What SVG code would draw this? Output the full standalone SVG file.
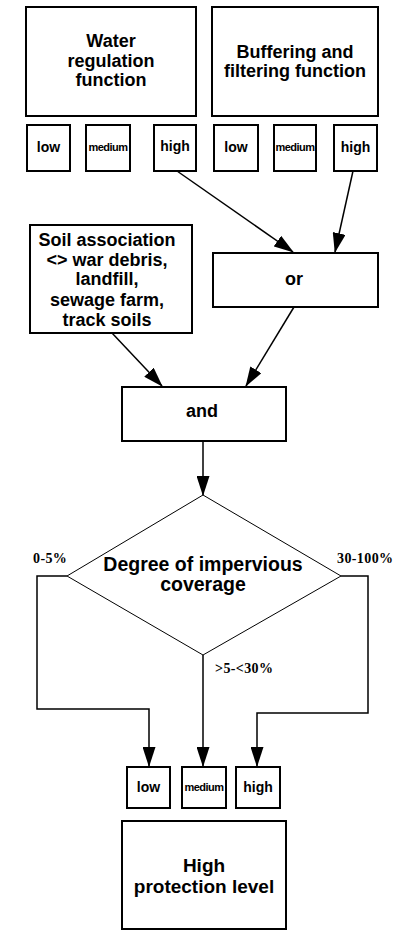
<svg xmlns="http://www.w3.org/2000/svg" width="403" height="938" viewBox="0 0 403 938">
<style>
.box{fill:#fff;stroke:#000;stroke-width:2}
.t{font-family:"Liberation Sans",Arial,sans-serif;font-weight:bold;fill:#000;text-anchor:middle}
.big{font-size:18px}
.dia{font-size:19.5px}
.res{font-size:19px}
.sm{font-size:14px}
.med{font-size:11px;letter-spacing:-0.5px}
.lbl{font-family:"Liberation Serif","Times New Roman",serif;font-weight:bold;font-size:14px;letter-spacing:0.4px;fill:#000}
.c{fill:none;stroke:#000;stroke-width:1.5}
</style>
<defs>
<marker id="ah" markerUnits="userSpaceOnUse" markerWidth="20" markerHeight="13" viewBox="0 0 20 13" refX="19" refY="6.5" orient="auto">
<path d="M0,0 L20,6.5 L0,13 Z" fill="#000"/>
</marker>
</defs>
<rect width="403" height="938" fill="#fff"/>
<g id="water"><rect class="box" x="26" y="7" width="170" height="109"/>
<text class="t big" x="111" y="47">Water</text><text class="t big" x="111" y="67">regulation</text><text class="t big" x="111" y="86">function</text></g>
<g id="buffer"><rect class="box" x="212" y="7" width="166" height="109"/>
<text class="t big" x="295" y="58">Buffering and</text><text class="t big" x="295" y="77">filtering function</text></g>
<g id="w-low"><rect class="box" x="27" y="125" width="43" height="46"/><text class="t sm" x="48.5" y="152">low</text></g>
<g id="w-medium"><rect class="box" x="86" y="125" width="44" height="46"/><text class="t med" x="108" y="151">medium</text></g>
<g id="w-high"><rect class="box" x="154" y="125" width="42" height="46"/><text class="t sm" x="175" y="151">high</text></g>
<g id="b-low"><rect class="box" x="214" y="125" width="44" height="46"/><text class="t sm" x="236" y="152">low</text></g>
<g id="b-medium"><rect class="box" x="274" y="125" width="42" height="46"/><text class="t med" x="295" y="151">medium</text></g>
<g id="b-high"><rect class="box" x="334" y="125" width="43" height="46"/><text class="t sm" x="355.5" y="152">high</text></g>
<g id="soil"><rect class="box" x="30" y="225" width="162" height="108"/>
<text class="t big" x="107" y="246">Soil association</text>
<text class="t big" x="107" y="266">&lt;&gt; war debris,</text>
<text class="t big" x="107" y="285">landfill,</text>
<text class="t big" x="107" y="306">sewage farm,</text>
<text class="t big" x="107" y="326">track soils</text></g>
<g id="or"><rect class="box" x="213" y="253" width="165" height="54"/><text class="t big" x="294" y="285">or</text></g>
<g id="and"><rect class="box" x="122" y="387" width="164" height="54"/><text class="t big" x="202" y="417">and</text></g>
<g id="decision"><polygon points="203,495 341,576 203,655 67,576" fill="#fff" stroke="#000" stroke-width="1"/>
<text class="t dia" x="203" y="571">Degree of impervious</text><text class="t dia" x="203" y="591">coverage</text></g>
<g id="o-low"><rect class="box" x="127" y="767" width="43" height="41"/><text class="t sm" x="148.5" y="792">low</text></g>
<g id="o-medium"><rect class="box" x="182" y="767" width="44" height="41"/><text class="t med" x="204" y="791">medium</text></g>
<g id="o-high"><rect class="box" x="236" y="767" width="44" height="41"/><text class="t sm" x="258" y="792">high</text></g>
<g id="result"><rect class="box" x="122" y="821" width="164" height="108"/>
<text class="t res" x="204" y="872">High</text><text class="t res" x="204" y="893">protection level</text></g>
<g id="connectors">
<line class="c" x1="177" y1="171" x2="293" y2="252" marker-end="url(#ah)"/>
<line class="c" x1="353" y1="171" x2="335" y2="252" marker-end="url(#ah)"/>
<line class="c" x1="112" y1="333" x2="162" y2="386" marker-end="url(#ah)"/>
<line class="c" x1="294" y1="307" x2="246" y2="386" marker-end="url(#ah)"/>
<line class="c" x1="203" y1="441" x2="203" y2="495" marker-end="url(#ah)"/>
<polyline class="c" points="67,576 37,576 37,709 149,709 149,766" marker-end="url(#ah)"/>
<line class="c" x1="203" y1="655" x2="203" y2="766" marker-end="url(#ah)"/>
<polyline class="c" points="341,576 368,576 368,713 257,713 257,766" marker-end="url(#ah)"/>
<text class="lbl" x="33" y="563">0-5%</text>
<text class="lbl" x="337" y="563">30-100%</text>
<text class="lbl" x="215" y="673">&gt;5-&lt;30%</text>
</g>
</svg>
